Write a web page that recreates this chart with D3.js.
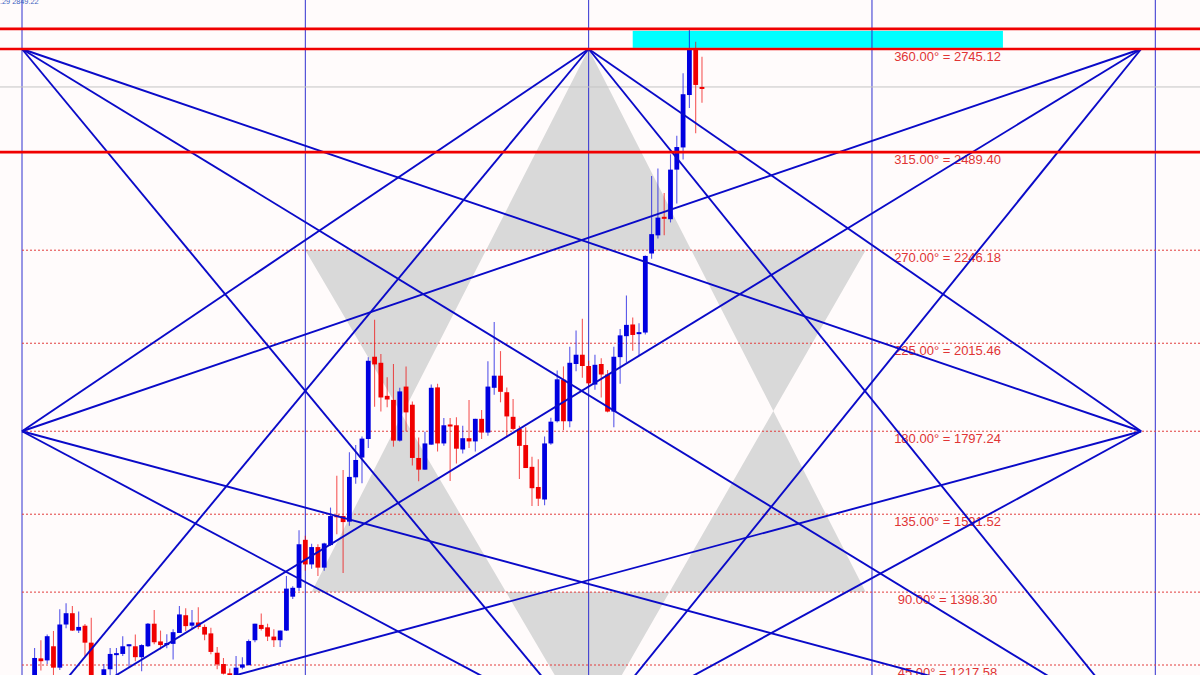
<!DOCTYPE html>
<html>
<head>
<meta charset="utf-8">
<style>html,body{margin:0;padding:0;background:#fffbfb;overflow:hidden}svg{display:block}</style>
<script src="https://cdnjs.cloudflare.com/ajax/libs/d3/7.8.5/d3.min.js"></script>
</head>
<body>
<script>
const firstBar = 2;
const opens = [
1153,1234,1229,1264,1211,1318,1346,1303,1315,1273,
1165,1153,1207,1244,1245,1264,1264,1237,1264,1320,
1276,1267,1270,1297,1341,1315,1323,1312,1296,1248,
1220,1197,1177,1211,1217,1279,1317,1311,1288,1279,
1303,1387,1409,1528,1467,1510,1459,1515,1589,1587,
1573,1683,1732,1778,1982,1967,1885,1875,1774,1908,
1863,1731,1702,1764,1906,1767,1814,1812,1752,1780,
1772,1828,1794,1905,1935,1894,1833,1803,1763,1709,
1659,1628,1767,1822,1925,1822,1964,1987,1959,1913,
1964,1938,1846,1981,2033,2062,2039,2042,2238,2283,
2329,2323,2446,2501,2631,2743,2651];
const closes = [
1235,1227,1289,1211,1318,1346,1303,1312,1273,1177,
1140,1207,1245,1247,1264,1269,1237,1267,1320,1274,
1267,1272,1299,1343,1314,1323,1312,1293,1250,1219,
1196,1177,1211,1219,1277,1320,1307,1288,1279,1303,
1407,1409,1517,1467,1510,1459,1519,1587,1585,1572,
1684,1726,1779,1972,1963,1881,1876,1774,1896,1844,
1731,1702,1767,1905,1767,1812,1810,1754,1780,1772,
1828,1794,1908,1935,1895,1834,1803,1761,1706,1656,
1630,1767,1821,1926,1822,1967,1987,1959,1916,1962,
1938,1846,1982,2035,2061,2036,2043,2232,2286,2327,
2324,2446,2502,2633,2743,2656,2647];
const highs = [
1260,1279,1293,1302,1356,1371,1364,1350,1319,1335,
1177,1220,1260,1260,1289,1269,1293,1269,1322,1354,
1303,1294,1306,1364,1358,1354,1361,1318,1310,1262,
1235,1209,1240,1237,1281,1320,1345,1320,1306,1303,
1438,1413,1552,1538,1518,1517,1521,1608,1687,1701,
1745,1763,1784,1981,2074,1989,1931,1964,1905,1958,
1871,1782,1796,1913,1915,1830,1830,1832,1811,1875,
1828,1850,1971,2068,1996,1906,1877,1811,1807,1734,
1728,1784,1831,1948,1958,2007,2047,2076,1972,1987,
1978,1949,2007,2051,2134,2079,2065,2233,2430,2449,
2388,2484,2530,2685,2792,2763,2726];
const lows = [
1128,1204,1220,1177,1205,1309,1302,1297,1240,1153,
1128,1140,1190,1177,1240,1210,1227,1202,1262,1269,
1256,1259,1231,1297,1302,1307,1306,1279,1244,1207,
1194,1165,1165,1207,1217,1274,1303,1277,1262,1262,
1302,1381,1401,1451,1456,1438,1451,1513,1542,1446,
1563,1667,1668,1756,1858,1846,1857,1759,1772,1797,
1712,1673,1702,1764,1747,1761,1674,1717,1742,1756,
1747,1778,1786,1888,1869,1782,1799,1679,1706,1612,
1612,1614,1764,1819,1800,1807,1946,1930,1910,1900,
1881,1844,1807,1915,1968,1997,1985,2037,2225,2275,
2283,2315,2362,2471,2599,2536,2612];

const degrees = ["360.00","315.00","270.00","225.00","180.00","135.00","90.00","45.00"];
const levels = [2745.12,2489.40,2246.18,2015.46,1797.24,1591.52,1398.30,1217.58];
const thickLevels = [2795,2745.12,2489.40];
const dottedLevels = [2246.18,2015.46,1797.24,1591.52,1398.30,1217.58];
const bidPrice = 2651;
const zeroLevel = 1049.38;
const verticalBars = [0,45,90,135,180];
const labelBar = 147;
const zoneBars = [97,155.8];
const zonePrices = [2790,2748];
const fanBars = {L:0,M:90,R:177.75};
const fanPrices = {T:2745.12,C:1797.24,B:zeroLevel};
const fanLines = ["TL-CR","TL-BR","TL-BM","TM-CL","TM-CR","TM-BL","TM-BR","TR-CL","TR-BL","TR-BM","CL-BR","CL-BM","CR-BL","CR-BM"];
const upTriangle = [[90,2745.12],[46,1398.30],[134,1398.30]];
const downTriangle = [[45,2246.18],[134,2246.18],[90,zeroLevel]];
const headerText = ".29 2849.22";

const W=1200,H=675;
const x = d3.scaleLinear().domain([0,180]).range([22,1155.3]);
const y = d3.scaleLinear().domain([1217.58,2745.12]).range([665,49]);
const svg = d3.select("body").append("svg").attr("width",W).attr("height",H);
svg.append("rect").attr("width",W).attr("height",H).attr("fill","#fffbfb");

const line = d3.line().x(d=>x(d[0])).y(d=>y(d[1]));
svg.append("path")
  .attr("d",line(upTriangle)+"Z"+line(downTriangle)+"Z")
  .attr("fill","#d9d9d9").attr("fill-rule","evenodd");

svg.append("rect")
  .attr("x",x(zoneBars[0])).attr("y",y(zonePrices[0]))
  .attr("width",x(zoneBars[1])-x(zoneBars[0])).attr("height",y(zonePrices[1])-y(zonePrices[0]))
  .attr("fill","#00ffff");

svg.selectAll(".v").data(verticalBars).join("line").attr("class","v")
  .attr("x1",d=>x(d)).attr("x2",d=>x(d)).attr("y1",0).attr("y2",H)
  .attr("stroke","#3030d0").attr("stroke-width",1);

svg.append("line").attr("x1",0).attr("x2",W).attr("y1",y(bidPrice)).attr("y2",y(bidPrice))
  .attr("stroke","#c4c4c4").attr("stroke-width",1);

svg.selectAll(".dot").data(dottedLevels).join("line").attr("class","dot")
  .attr("x1",x(0)).attr("x2",W).attr("y1",d=>y(d)).attr("y2",d=>y(d))
  .attr("stroke","#e23c3c").attr("stroke-width",1).attr("stroke-dasharray","2,2");

const candles = d3.range(opens.length).map(k=>({bar:firstBar+k,o:opens[k],c:closes[k],h:highs[k],l:lows[k]}));
const colour = d=>d.c>=d.o?"#0000e0":"#f00000";
svg.selectAll(".wick").data(candles).join("line").attr("class","wick")
  .attr("x1",d=>x(d.bar)).attr("x2",d=>x(d.bar)).attr("y1",d=>y(d.h)).attr("y2",d=>y(d.l))
  .attr("stroke",colour).attr("stroke-width",1.1).attr("stroke-opacity",0.65);
svg.selectAll(".body").data(candles).join("rect").attr("class","body")
  .attr("x",d=>x(d.bar)-2.4).attr("width",4.8)
  .attr("y",d=>y(Math.max(d.o,d.c)))
  .attr("height",d=>Math.max(2,Math.abs(y(d.o)-y(d.c))))
  .attr("fill",colour);

svg.selectAll(".lab").data(levels).join("text").attr("class","lab")
  .attr("x",x(labelBar)).attr("y",d=>y(d)+11.5)
  .attr("text-anchor","middle")
  .attr("font-family","'Liberation Sans',Arial,sans-serif").attr("font-size",13)
  .attr("fill","#e03434")
  .text((d,i)=>degrees[i]+"° = "+d.toFixed(2));

svg.selectAll(".fan").data(fanLines).join("line").attr("class","fan")
  .attr("x1",d=>x(fanBars[d[1]])).attr("y1",d=>y(fanPrices[d[0]]))
  .attr("x2",d=>x(fanBars[d[4]])).attr("y2",d=>y(fanPrices[d[3]]))
  .attr("stroke","#0a0ac8").attr("stroke-width",1.9);

svg.selectAll(".thick").data(thickLevels).join("line").attr("class","thick")
  .attr("x1",0).attr("x2",W).attr("y1",d=>y(d)).attr("y2",d=>y(d))
  .attr("stroke","#f00000").attr("stroke-width",2.7);

svg.append("text").attr("x",0).attr("y",3.5)
  .attr("font-family","'Liberation Sans',Arial,sans-serif").attr("font-size",7.3)
  .attr("fill","#3a5fc0").text(headerText);
</script>
</body>
</html>
